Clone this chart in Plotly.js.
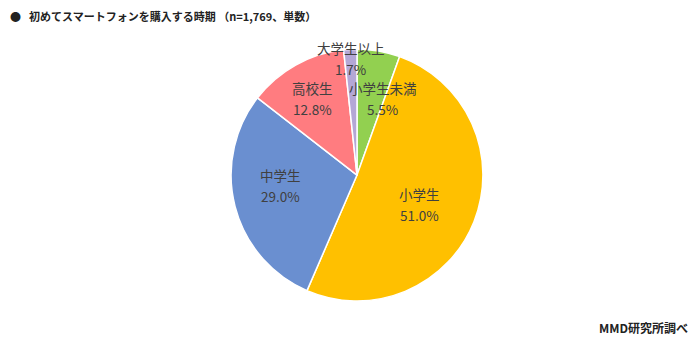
<!DOCTYPE html>
<html><head><meta charset="utf-8">
<script src="https://cdn.plot.ly/plotly-3.0.1.min.js"></script>
<style>html,body{margin:0;padding:0;background:#fff}</style>
</head><body>
<div id="chart" style="width:700px;height:351px"></div>
<script>
const categories = ['小学生未満', '小学生', '中学生', '高校生', '大学生以上'];
const shares = [5.5, 51.0, 29.0, 12.8, 1.7];
const sliceColors = ['#92D050', '#FFC000', '#6A8FD0', '#FF7C80', '#B4A7D6'];
const titleText = '初めてスマートフォンを購入する時期 （n=1,769、単数）';
const sourceText = 'MMD研究所調べ';
// label nudges in px (right, up), mimicking the original best-fit placement
const labelNudge = [[12, -3], [-12, 0], [2, 10], [-5, 6], [0, 0]];

const W = 700, H = 351;
const dom = {x: [0.33, 0.69], y: [0.1425, 0.86]};
const radiusPx = Math.min((dom.x[1] - dom.x[0]) * W, (dom.y[1] - dom.y[0]) * H) / 2;
const cx = (dom.x[0] + dom.x[1]) / 2, cy = (dom.y[0] + dom.y[1]) / 2;
const labelFont = {family: 'Noto Sans CJK JP, sans-serif', size: 13.5, color: '#404040'};

const trace = {
  type: 'pie',
  labels: categories,
  values: shares,
  textinfo: 'none',
  sort: false,
  direction: 'clockwise',
  rotation: 0,
  marker: {colors: sliceColors, line: {color: '#ffffff', width: 1.5}},
  automargin: false,
  showlegend: false,
  hoverinfo: 'none',
  domain: dom
};

// data labels placed at each slice's mid-angle, computed from the values
const total = shares.reduce((a, b) => a + b, 0);
const labelAnns = [];
let acc = 0;
shares.forEach((v, i) => {
  const mid = (acc + v / 2) / total * 2 * Math.PI;
  acc += v;
  const rf = v < 3 ? 0.93 : 0.64;
  const dx = Math.sin(mid) * radiusPx * rf + labelNudge[i][0];
  const dy = Math.cos(mid) * radiusPx * rf + labelNudge[i][1];
  const x = cx + dx / W, y = cy + dy / H;
  labelAnns.push({text: categories[i], xref: 'paper', yref: 'paper', x: x, y: y, yshift: 10.5,
    xanchor: 'center', yanchor: 'middle', showarrow: false, font: labelFont});
  labelAnns.push({text: v.toFixed(1) + '%', xref: 'paper', yref: 'paper', x: x, y: y, yshift: -10.5,
    xanchor: 'center', yanchor: 'middle', showarrow: false, font: labelFont});
});

const layout = {
  width: W, height: H,
  margin: {l: 0, r: 0, t: 0, b: 0},
  paper_bgcolor: '#ffffff',
  showlegend: false,
  annotations: labelAnns.concat([
    {text: '<b>●</b>', xref: 'paper', yref: 'paper', x: 0.012, y: 0.955,
     xanchor: 'left', yanchor: 'middle', showarrow: false,
     font: {family: 'Noto Sans CJK JP, sans-serif', size: 11, color: '#222222'}},
    {text: '<b>' + titleText + '</b>', xref: 'paper', yref: 'paper', x: 0.038, y: 0.955,
     xanchor: 'left', yanchor: 'middle', showarrow: false,
     font: {family: 'Noto Sans CJK JP, sans-serif', size: 11, color: '#222222'}},
    {text: '<b>' + sourceText + '</b>', xref: 'paper', yref: 'paper', x: 0.985, y: 0.068,
     xanchor: 'right', yanchor: 'middle', showarrow: false,
     font: {family: 'Noto Sans CJK JP, sans-serif', size: 12, color: '#222222'}}
  ])
};

Plotly.newPlot('chart', [trace], layout, {staticPlot: true, displayModeBar: false});
</script>
</body></html>
